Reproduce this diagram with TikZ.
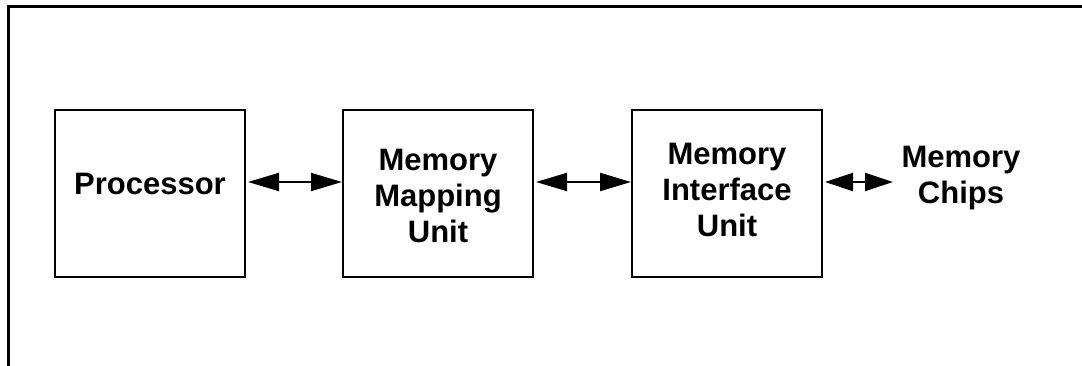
\documentclass[tikz,border=0pt]{standalone}
\usepackage{fontspec}
\setmainfont{Liberation Sans}
\usetikzlibrary{arrows.meta}
\begin{document}
\begin{tikzpicture}[x=1pt,y=-1pt,
  blockbox/.style={draw, line width=2pt, minimum width=190pt, minimum height=167pt, inner sep=0pt},
  lbl/.style={font=\fontsize{31}{36}\selectfont\bfseries, align=center, inner sep=0pt},
  dbl/.style={line width=2pt, {Triangle[length=31pt,width=18pt]}-{Triangle[length=31pt,width=18pt]}},
  dbls/.style={line width=2pt, {Triangle[length=28pt,width=18pt]}-{Triangle[length=28pt,width=18pt]}}]
\useasboundingbox (0,0) rectangle (1082,366);
\draw[line width=3pt] (8.5,366) -- (8.5,6.5) -- (1082,6.5);
\node[blockbox] (b1) at (150,193.5) {};
\node[blockbox] (b2) at (438,193.5) {};
\node[blockbox] (b3) at (727,193.5) {};
\node[lbl] (t1) at (150,183.5) {Processor};
\node[lbl] (t2) at (438,196) {Memory\\Mapping\\Unit};
\node[lbl] (t3) at (727,190) {Memory\\Interface\\Unit};
\node[lbl] (chips) at (961,178) {Memory\\Chips};
\coordinate (c3) at (893,182);
\draw[dbl, shorten <=2pt] ([yshift=11.5pt]b1.east) -- ([yshift=11.5pt]b2.west);
\draw[dbl, shorten <=2pt] ([yshift=11.5pt]b2.east) -- ([yshift=11.5pt]b3.west);
\draw[dbls, shorten <=2pt] ([yshift=11.5pt]b3.east) -- (c3);
\end{tikzpicture}
\end{document}
